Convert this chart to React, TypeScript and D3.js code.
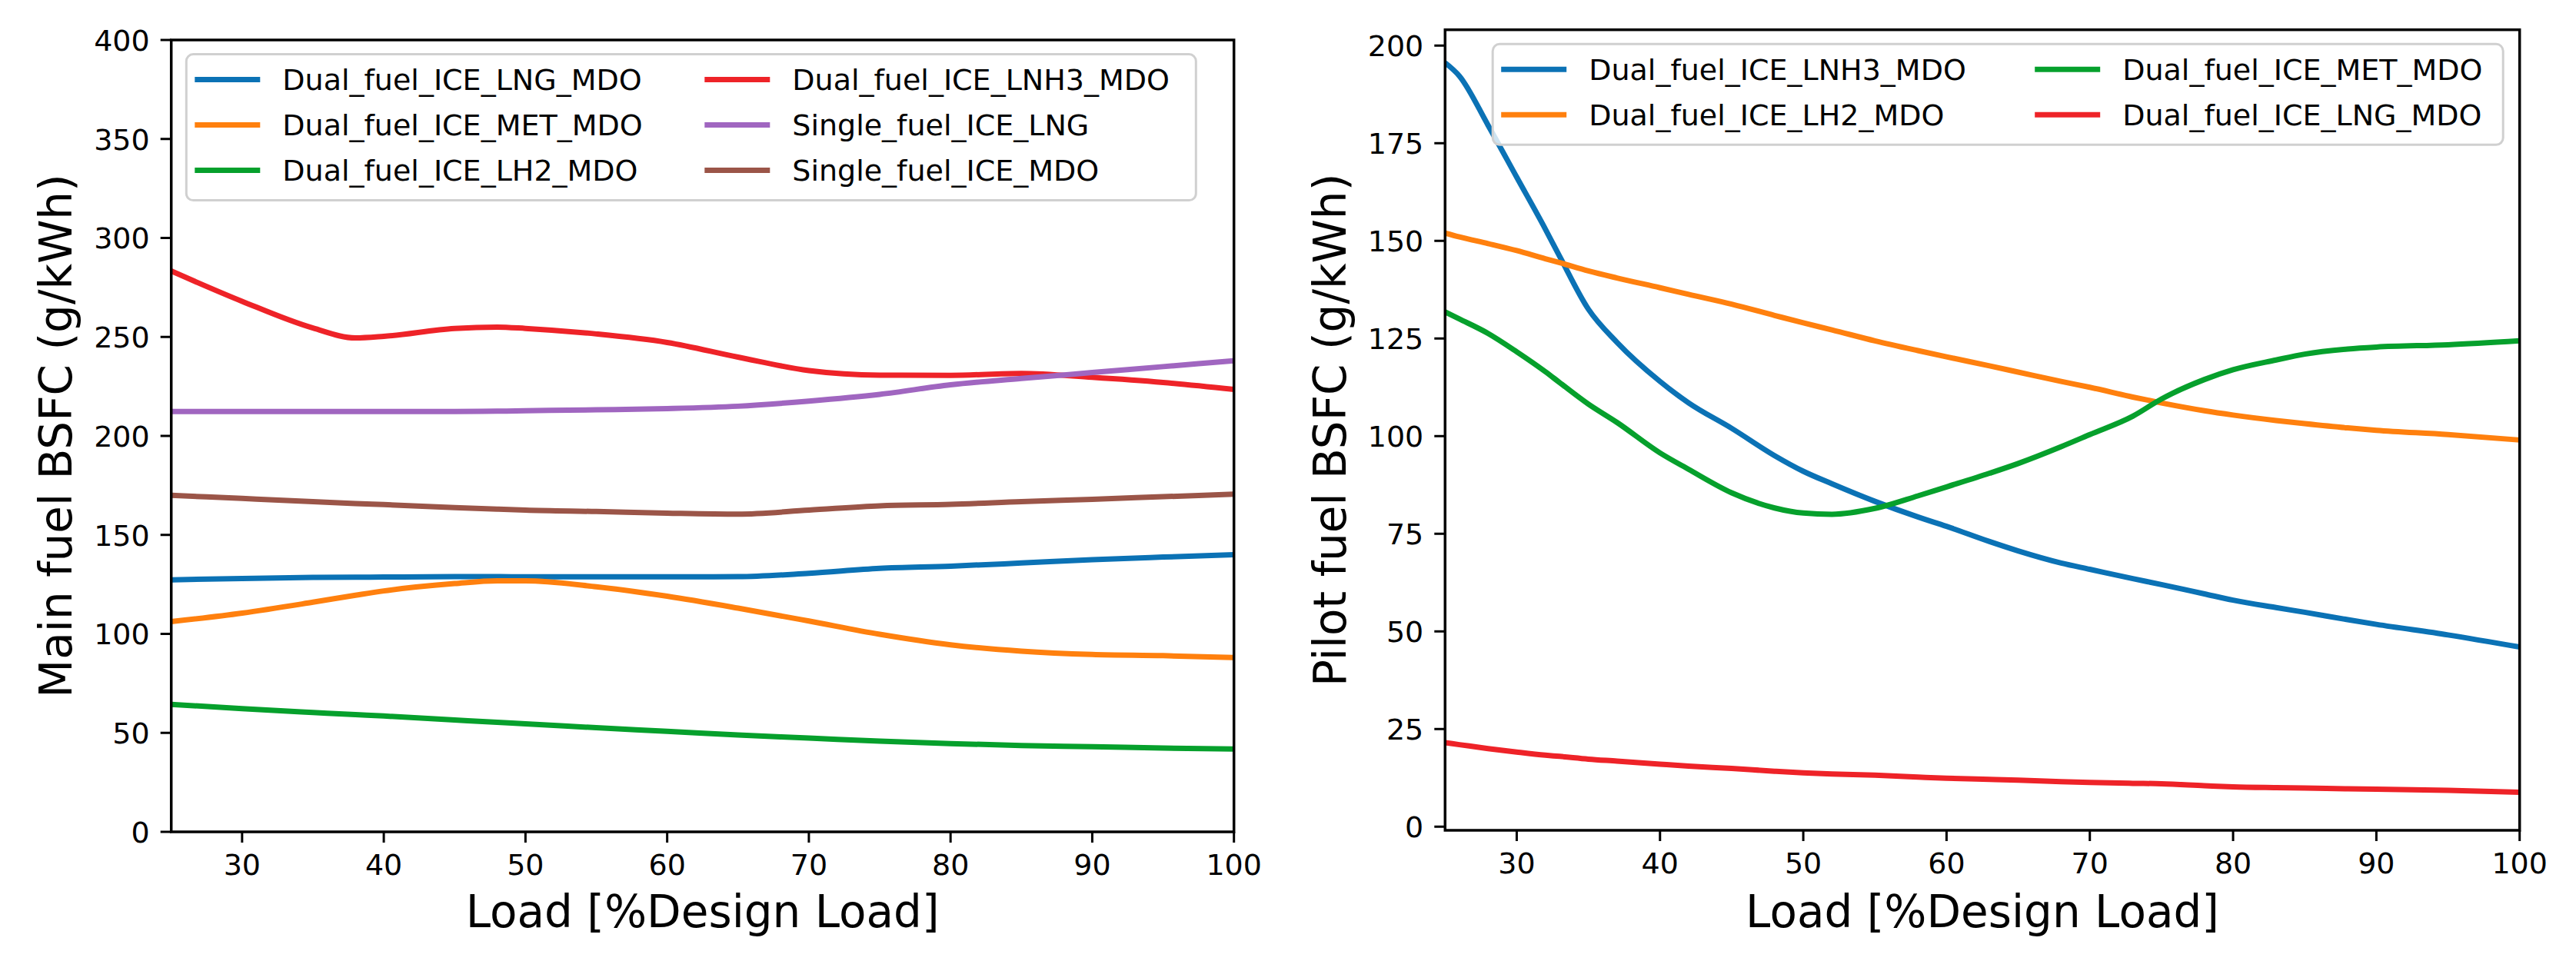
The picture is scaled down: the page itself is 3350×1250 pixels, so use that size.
import React from "react";
import * as d3 from "d3";

// ---------- DATA ----------
const loadMain = [25, 30, 35, 38, 40, 45, 48, 50, 55, 60, 65, 70, 75, 80, 85, 90, 95, 100];
const mainDF_LNG = [127.3, 128, 128.5, 128.6, 128.7, 128.9, 128.9, 128.8, 128.8, 128.8, 128.9, 130.6, 133.1, 134.2, 135.8, 137.5, 138.8, 140];
const mainDF_MET = [106.2, 110.5, 116, 119.5, 121.7, 125.4, 126.8, 126.8, 123.8, 119, 113, 106.5, 99.8, 94.5, 91.3, 89.6, 89, 88];
const mainDF_LH2 = [64.4, 62.2, 60.3, 59.2, 58.5, 56.5, 55.3, 54.6, 52.6, 50.8, 48.9, 47.4, 45.8, 44.6, 43.6, 43, 42.3, 41.8];
const mainDF_LNH3 = [283.3, 268, 254.5, 249.5, 250.3, 254.3, 255, 254.3, 251.5, 247.2, 239.8, 233, 230.7, 230.6, 231.6, 229.6, 227, 223.5];
const mainSF_LNG = [212.3, 212.3, 212.3, 212.3, 212.3, 212.3, 212.5, 212.7, 213.2, 213.8, 215, 217.6, 221, 225.8, 229, 232, 235, 238];
const mainSF_MDO = [170, 168.4, 166.8, 165.8, 165.3, 163.8, 163, 162.5, 161.8, 161, 160.5, 162.5, 164.7, 165.4, 166.8, 168, 169.3, 170.6];

const loadPilot = [25, 26, 28, 30, 32, 33, 35, 37, 40, 42, 45, 48, 50, 52, 55, 58, 60, 63, 65, 68, 70, 73, 75, 78, 80, 83, 85, 88, 90, 95, 100];
const pilotLNH3 = [195.6, 192.2, 179.6, 166.3, 153, 146, 132.5, 124, 114, 108.5, 102, 95, 91, 87.8, 83.3, 79.3, 76.9, 73, 70.6, 67.5, 65.9, 63.5, 62, 59.6, 58, 56.1, 54.9, 53, 51.8, 49.1, 46];
const pilotLH2 = [152, 151, 149.3, 147.5, 145.4, 144.4, 142.3, 140.5, 138, 136.3, 133.8, 130.9, 129, 127.2, 124.4, 121.9, 120.3, 118, 116.4, 114, 112.5, 110, 108.5, 106.5, 105.4, 104, 103.2, 102.1, 101.5, 100.4, 99];
const pilotMET = [131.8, 130, 126.3, 121.6, 116.5, 113.7, 108.2, 103.5, 95.7, 91.5, 85.5, 81.6, 80.3, 80, 81.5, 84.7, 87, 90.5, 93, 97.3, 100.4, 105.1, 109.5, 114.5, 117, 119.5, 121, 122.3, 122.8, 123.4, 124.4];
const pilotLNG = [21.5, 21, 20, 19.1, 18.3, 18, 17.3, 16.8, 16, 15.5, 14.9, 14.2, 13.8, 13.5, 13.2, 12.7, 12.4, 12.1, 11.9, 11.5, 11.3, 11.1, 11, 10.5, 10.2, 10, 9.9, 9.7, 9.6, 9.3, 8.8];

const xTicks = [30, 40, 50, 60, 70, 80, 90, 100];
const mainYTicks = [0, 50, 100, 150, 200, 250, 300, 350, 400];
const pilotYTicks = [0, 25, 50, 75, 100, 125, 150, 175, 200];

const C_BLUE = "#0b72b5";
const C_ORANGE = "#ff800e";
const C_GREEN = "#06a02c";
const C_RED = "#ee2328";
const C_PURPLE = "#a066c0";
const C_BROWN = "#9b5548";

type Series = { name: string; values: number[]; color: string };

const mainSeries: Series[] = [
  { name: "Dual_fuel_ICE_LNG_MDO", values: mainDF_LNG, color: C_BLUE },
  { name: "Dual_fuel_ICE_MET_MDO", values: mainDF_MET, color: C_ORANGE },
  { name: "Dual_fuel_ICE_LH2_MDO", values: mainDF_LH2, color: C_GREEN },
  { name: "Dual_fuel_ICE_LNH3_MDO", values: mainDF_LNH3, color: C_RED },
  { name: "Single_fuel_ICE_LNG", values: mainSF_LNG, color: C_PURPLE },
  { name: "Single_fuel_ICE_MDO", values: mainSF_MDO, color: C_BROWN },
];

const pilotSeries: Series[] = [
  { name: "Dual_fuel_ICE_LNH3_MDO", values: pilotLNH3, color: C_BLUE },
  { name: "Dual_fuel_ICE_LH2_MDO", values: pilotLH2, color: C_ORANGE },
  { name: "Dual_fuel_ICE_MET_MDO", values: pilotMET, color: C_GREEN },
  { name: "Dual_fuel_ICE_LNG_MDO", values: pilotLNG, color: C_RED },
];

const FONT = "'DejaVu Sans', sans-serif";

type PanelProps = {
  id: string;
  x0: number; x1: number; yTop: number; yBot: number;
  yDomain: [number, number];
  yTicks: number[];
  loads: number[];
  series: Series[];
  yLabel: string;
  legendSide: "left" | "right";
  legendRows: number;
  legendWidth: number;
  legendCol2: number;
};

function Panel(p: PanelProps) {
  const x = d3.scaleLinear().domain([25, 100]).range([p.x0, p.x1]);
  const y = d3.scaleLinear().domain(p.yDomain).range([p.yBot, p.yTop]);
  const line = d3
    .line<[number, number]>()
    .x((d) => x(d[0]))
    .y((d) => y(d[1]))
    .curve(d3.curveMonotoneX);
  const cx = (p.x0 + p.x1) / 2;
  const cy = (p.yTop + p.yBot) / 2;
  const boxH = 33 + (p.legendRows - 1) * 59 + 39;
  const boxX = p.legendSide === "left" ? p.x0 + 19.6 : p.x1 - 21.5 - p.legendWidth;
  const boxY = p.yTop + 18.6;
  return (
    <g>
      <defs>
        <clipPath id={p.id}>
          <rect x={p.x0} y={p.yTop} width={p.x1 - p.x0} height={p.yBot - p.yTop} />
        </clipPath>
      </defs>
      <g clipPath={`url(#${p.id})`}>
        {p.series.map((s) => (
          <path
            key={s.name}
            d={line(p.loads.map((l, i) => [l, s.values[i]] as [number, number])) || ""}
            fill="none"
            stroke={s.color}
            strokeWidth={7}
            strokeLinejoin="round"
          />
        ))}
      </g>
      {/* spines */}
      <rect x={p.x0} y={p.yTop} width={p.x1 - p.x0} height={p.yBot - p.yTop} fill="none" stroke="#000" strokeWidth={3.5} />
      {/* x ticks */}
      {xTicks.map((t) => (
        <g key={"x" + t}>
          <line x1={x(t)} x2={x(t)} y1={p.yBot} y2={p.yBot + 14} stroke="#000" strokeWidth={3} />
          <text x={x(t)} y={p.yBot + 56} textAnchor="middle" fontFamily={FONT} fontSize={38} fill="#000">
            {t}
          </text>
        </g>
      ))}
      {/* y ticks */}
      {p.yTicks.map((t) => (
        <g key={"y" + t}>
          <line x1={p.x0 - 14} x2={p.x0} y1={y(t)} y2={y(t)} stroke="#000" strokeWidth={3} />
          <text x={p.x0 - 28} y={y(t) + 13.8} textAnchor="end" fontFamily={FONT} fontSize={38} fill="#000">
            {t}
          </text>
        </g>
      ))}
      {/* axis labels */}
      <text x={cx} y={1206} textAnchor="middle" fontFamily={FONT} fontSize={58} fill="#000">
        Load [%Design Load]
      </text>
      <text
        transform={`translate(${p.x0 - 129.7},${cy}) rotate(-90)`}
        textAnchor="middle"
        fontFamily={FONT}
        fontSize={58}
        fill="#000"
      >
        {p.yLabel}
      </text>
      {/* legend */}
      <rect x={boxX} y={boxY} width={p.legendWidth} height={boxH} rx={9} ry={9} fill="rgba(255,255,255,0.8)" stroke="#d0d0d0" strokeWidth={3} />
      {p.series.map((s, i) => {
        const col = Math.floor(i / p.legendRows);
        const row = i % p.legendRows;
        const lx = boxX + 11 + col * p.legendCol2;
        const ly = boxY + 33 + row * 59;
        return (
          <g key={"lg" + s.name}>
            <line x1={lx} x2={lx + 85} y1={ly} y2={ly} stroke={s.color} strokeWidth={7} />
            <text x={lx + 114} y={ly + 13.4} fontFamily={FONT} fontSize={38} fill="#000">
              {s.name}
            </text>
          </g>
        );
      })}
    </g>
  );
}

export default function App() {
  return (
    <svg
      width={3350}
      height={1250}
      viewBox="0 0 3350 1250"
      style={{ position: "absolute", left: 0, top: 0, background: "#fff" }}
    >
      <rect x={0} y={0} width={3350} height={1250} fill="#fff" />
      <Panel
        id="clipMain"
        x0={222.7}
        x1={1604.7}
        yTop={52}
        yBot={1082}
        yDomain={[0, 400]}
        yTicks={mainYTicks}
        loads={loadMain}
        series={mainSeries}
        yLabel="Main fuel BSFC (g/kWh)"
        legendSide="left"
        legendRows={3}
        legendWidth={1313}
        legendCol2={663}
      />
      <Panel
        id="clipPilot"
        x0={1879.3}
        x1={3276.7}
        yTop={38.7}
        yBot={1080}
        yDomain={[-0.93, 204.05]}
        yTicks={pilotYTicks}
        loads={loadPilot}
        series={pilotSeries}
        yLabel="Pilot fuel BSFC (g/kWh)"
        legendSide="right"
        legendRows={2}
        legendWidth={1314}
        legendCol2={694}
      />
    </svg>
  );
}
